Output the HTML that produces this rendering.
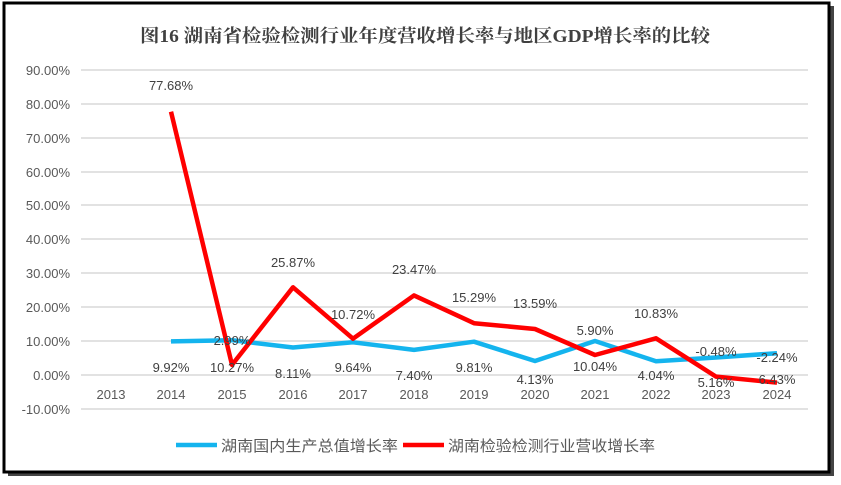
<!DOCTYPE html>
<html><head><meta charset="utf-8"><style>
body{margin:0;background:#fff;}
svg{display:block;font-family:"Liberation Sans","Noto Sans CJK SC",sans-serif;}
</style></head><body>
<svg width="841" height="485" viewBox="0 0 841 485">
<rect x="8" y="6" width="826" height="470" fill="#444"/>
<rect x="4" y="3" width="825" height="469" fill="#fff" stroke="#000" stroke-width="3"/>
<text x="140" y="42" font-size="18" font-weight="bold" fill="#404040" textLength="570" lengthAdjust="spacingAndGlyphs" font-family="Liberation Serif, Noto Serif CJK SC, serif">图16  湖南省检验检测行业年度营收增长率与地区GDP增长率的比较</text>
<g stroke="#d9d9d9" stroke-width="1.5">
<line x1="81" x2="808" y1="70" y2="70"/><line x1="81" x2="808" y1="104" y2="104"/>
<line x1="81" x2="808" y1="138" y2="138"/><line x1="81" x2="808" y1="172" y2="172"/>
<line x1="81" x2="808" y1="205" y2="205"/><line x1="81" x2="808" y1="239" y2="239"/>
<line x1="81" x2="808" y1="273" y2="273"/><line x1="81" x2="808" y1="307" y2="307"/>
<line x1="81" x2="808" y1="341" y2="341"/><line x1="81" x2="808" y1="375" y2="375"/>
<line x1="81" x2="808" y1="409" y2="409"/>
</g>
<g font-size="13" fill="#595959" text-anchor="end">
<text x="70" y="75">90.00%</text><text x="70" y="109">80.00%</text><text x="70" y="143">70.00%</text>
<text x="70" y="177">60.00%</text><text x="70" y="210">50.00%</text><text x="70" y="244">40.00%</text>
<text x="70" y="278">30.00%</text><text x="70" y="312">20.00%</text><text x="70" y="346">10.00%</text>
<text x="70" y="380">0.00%</text><text x="70" y="414">-10.00%</text>
</g>
<g font-size="13" fill="#595959" text-anchor="middle">
<text x="111" y="399">2013</text><text x="171" y="399">2014</text><text x="232" y="399">2015</text>
<text x="293" y="399">2016</text><text x="353" y="399">2017</text><text x="414" y="399">2018</text>
<text x="474" y="399">2019</text><text x="535" y="399">2020</text><text x="595" y="399">2021</text>
<text x="656" y="399">2022</text><text x="716" y="399">2023</text><text x="777" y="399">2024</text>
</g>
<polyline fill="none" stroke="#14b4ee" stroke-width="4.5" stroke-linejoin="round"
points="171,341.4 232,340.2 293,347.5 353,342.3 414,349.9 474,341.7 535,361 595,341 656,361.3 716,357.5 777,353.2"/>
<polyline fill="none" stroke="#ff0000" stroke-width="4.5" stroke-linejoin="round"
points="171,111.7 232,364.9 293,287.3 353,338.7 414,295.4 474,323.2 535,329 595,355 656,338.3 716,376.6 777,382.6"/>
<g font-size="13" fill="#404040" text-anchor="middle">
<text x="171" y="90">77.68%</text><text x="232" y="345">2.99%</text><text x="293" y="267">25.87%</text>
<text x="353" y="319">10.72%</text><text x="414" y="274">23.47%</text><text x="474" y="302">15.29%</text>
<text x="535" y="308">13.59%</text><text x="595" y="335">5.90%</text><text x="656" y="318">10.83%</text>
<text x="716" y="356">-0.48%</text><text x="777" y="362">-2.24%</text>
<text x="171" y="372">9.92%</text><text x="232" y="372">10.27%</text><text x="293" y="378">8.11%</text>
<text x="353" y="372">9.64%</text><text x="414" y="380">7.40%</text><text x="474" y="372">9.81%</text>
<text x="535" y="384">4.13%</text><text x="595" y="371">10.04%</text><text x="656" y="380">4.04%</text>
<text x="716" y="387">5.16%</text><text x="777" y="384">6.43%</text>
</g>
<line x1="176" x2="217" y1="445" y2="445" stroke="#14b4ee" stroke-width="4.5"/>
<text x="221" y="451" font-size="15" fill="#595959" textLength="177" lengthAdjust="spacingAndGlyphs">湖南国内生产总值增长率</text>
<line x1="403" x2="444" y1="445" y2="445" stroke="#ff0000" stroke-width="4.5"/>
<text x="448" y="451" font-size="15" fill="#595959" textLength="207" lengthAdjust="spacingAndGlyphs">湖南检验检测行业营收增长率</text>
</svg>
</body></html>
